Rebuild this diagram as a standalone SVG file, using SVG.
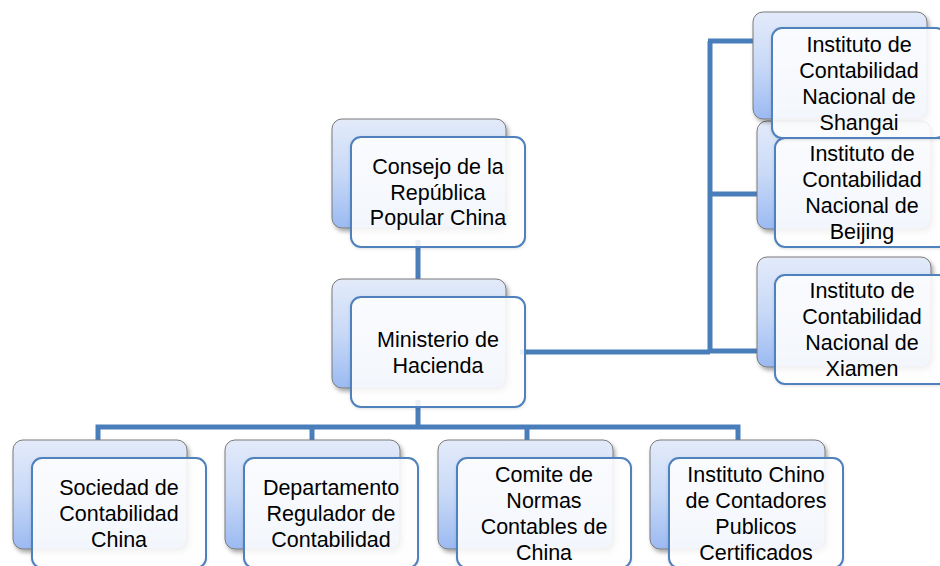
<svg xmlns="http://www.w3.org/2000/svg" width="940" height="566" viewBox="0 0 940 566">
<defs>
<linearGradient id="g" x1="0" y1="0" x2="0" y2="1">
<stop offset="0" stop-color="#e3ebfa"/>
<stop offset="0.5" stop-color="#c8d9f7"/>
<stop offset="1" stop-color="#9bbaf2"/>
</linearGradient>
<filter id="sh" x="-10%" y="-10%" width="130%" height="130%">
<feDropShadow dx="2" dy="3" stdDeviation="2" flood-color="#000" flood-opacity="0.35"/>
</filter>
<filter id="sh2" x="-10%" y="-10%" width="130%" height="130%">
<feDropShadow dx="0" dy="1" stdDeviation="1.5" flood-color="#000" flood-opacity="0.12"/>
</filter>
</defs>
<style>
.back{fill:url(#g);stroke:#7a7a7a;stroke-width:1;filter:url(#sh)}
.front{fill:#ffffff;fill-opacity:0.88;stroke:#4f81bd;stroke-width:2;filter:url(#sh2)}
.conn{fill:none;stroke:#4a7ebb;stroke-width:5}
text{font-family:"Liberation Sans",Arial,sans-serif;font-size:21.5px;fill:#000;text-anchor:middle}
</style>
<rect width="940" height="566" fill="#ffffff"/>
<g id="connectors">
<path class="conn" d="M418 240 V290"/>
<path class="conn" d="M418 400 V427"/>
<path class="conn" d="M98 450 V427 H738 V450"/>
<path class="conn" d="M312 427 V450"/>
<path class="conn" d="M527 427 V450"/>
<path class="conn" d="M520 352 H710 M710 352 V41 M708 41 H765 M708 194 H765 M708 351 H765"/>
</g>
<g id="consejo">
<rect class="back" x="332" y="119" width="174" height="109" rx="10"/>
<rect class="front" x="351" y="137" width="174" height="110" rx="10"/>
<text x="438" y="174">Consejo de la</text>
<text x="438" y="200">República</text>
<text x="438" y="225">Popular China</text>
</g>
<g id="ministerio">
<rect class="back" x="332" y="279" width="174" height="109" rx="10"/>
<rect class="front" x="351" y="297" width="174" height="110" rx="10"/>
<text x="438" y="347">Ministerio de</text>
<text x="438" y="373">Hacienda</text>
</g>
<g id="beijing">
<rect class="back" x="757" y="121" width="174" height="108" rx="10"/>
<rect class="front" x="775" y="138" width="174" height="109" rx="10"/>
<text x="862" y="161">Instituto de</text>
<text x="862" y="187">Contabilidad</text>
<text x="862" y="213">Nacional de</text>
<text x="862" y="239">Beijing</text>
</g>
<g id="shangai">
<rect class="back" x="753" y="12" width="174" height="107" rx="10"/>
<rect class="front" x="772" y="28" width="174" height="110" rx="10"/>
<text x="859" y="52">Instituto de</text>
<text x="859" y="78">Contabilidad</text>
<text x="859" y="104">Nacional de</text>
<text x="859" y="130">Shangai</text>
</g>
<g id="xiamen">
<rect class="back" x="757" y="257" width="174" height="110" rx="10"/>
<rect class="front" x="775" y="275" width="174" height="109" rx="10"/>
<text x="862" y="298">Instituto de</text>
<text x="862" y="324">Contabilidad</text>
<text x="862" y="350">Nacional de</text>
<text x="862" y="376">Xiamen</text>
</g>
<g id="sociedad">
<rect class="back" x="13" y="440" width="174" height="109" rx="10"/>
<rect class="front" x="32" y="458" width="174" height="110" rx="10"/>
<text x="119" y="495">Sociedad de</text>
<text x="119" y="521">Contabilidad</text>
<text x="119" y="547">China</text>
</g>
<g id="departamento">
<rect class="back" x="225" y="440" width="175" height="109" rx="10"/>
<rect class="front" x="244" y="458" width="174" height="110" rx="10"/>
<text x="331" y="495">Departamento</text>
<text x="331" y="521">Regulador de</text>
<text x="331" y="547">Contabilidad</text>
</g>
<g id="comite">
<rect class="back" x="438" y="440" width="175" height="109" rx="10"/>
<rect class="front" x="457" y="458" width="174" height="110" rx="10"/>
<text x="544" y="482">Comite de</text>
<text x="544" y="508">Normas</text>
<text x="544" y="534">Contables de</text>
<text x="544" y="560">China</text>
</g>
<g id="instituto-chino">
<rect class="back" x="650" y="440" width="175" height="109" rx="10"/>
<rect class="front" x="669" y="458" width="174" height="110" rx="10"/>
<text x="756" y="482">Instituto Chino</text>
<text x="756" y="508">de Contadores</text>
<text x="756" y="534">Publicos</text>
<text x="756" y="560">Certificados</text>
</g>
</svg>
